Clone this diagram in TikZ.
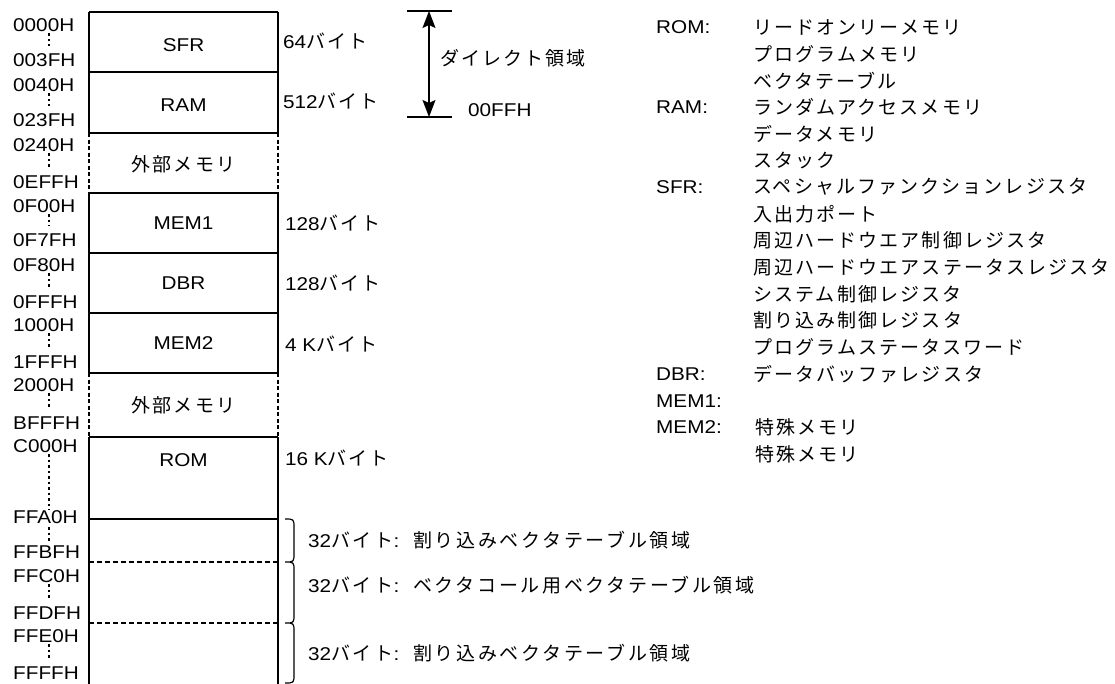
\documentclass[tikz,border=0pt]{standalone}
\usepackage{fontspec}
\setmainfont{Liberation Sans}[FakeStretch=1.12]
\newfontfamily\jpfont{Noto Sans CJK JP}[LetterSpace=11]
\newfontfamily\jpfontb{Noto Sans CJK JP}[LetterSpace=14]
\usetikzlibrary{arrows.meta}
\newcommand\jtx[1]{{\jpfont\fontsize{19}{22}\selectfont #1}}
\newcommand\jtxb[1]{{\jpfontb\fontsize{19}{22}\selectfont #1}}
\tikzset{
  lbl/.style={font=\fontsize{18.5}{22}\selectfont, inner sep=0pt},
  addr/.style={lbl, anchor=west},
  boxline/.style={line width=1.6pt},
  dashside/.style={line width=1.3pt, dash pattern=on 4pt off 2.5pt},
  dashsep/.style={line width=1.2pt, dash pattern=on 5pt off 3pt},
  dotv/.style={line width=1.1pt, dash pattern=on 2.5pt off 3pt},
  brace/.style={line width=1.2pt},
  dirarrow/.style={line width=1.2pt, {Stealth[length=17pt,width=13pt,inset=3pt]}-{Stealth[length=17pt,width=13pt,inset=3pt]}}
}
\begin{document}
\begin{tikzpicture}[x=1pt,y=-1pt]
\useasboundingbox (0,0) rectangle (1115,683);
% ---- memory column outline
\draw[boxline] (89,12) -- (89,133) (278,12) -- (278,133);
\draw[boxline] (89,193) -- (89,373) (278,193) -- (278,373);
\draw[boxline] (89,437) -- (89,684) (278,437) -- (278,684);
\draw[dashside] (89,133) -- (89,193) (278,133) -- (278,193);
\draw[dashside] (89,373) -- (89,437) (278,373) -- (278,437);
\foreach \yy in {12,72,133,193,253,313,373,437,519}
  \draw[boxline] (89,\yy) -- (278,\yy);
\draw[dashsep] (89,562) -- (278,562);
\draw[dashsep] (89,623) -- (278,623);
% ---- box labels
\node[lbl] (sfr)  at (183.5,45)  {SFR};
\node[lbl] (ram)  at (183.5,105) {RAM};
\node[lbl] (ext1) at (183.5,164) {\jtx{外部メモリ}};
\node[lbl] (mem1) at (183.5,223) {MEM1};
\node[lbl] (dbr)  at (183.5,283) {DBR};
\node[lbl] (mem2) at (183.5,343) {MEM2};
\node[lbl] (ext2) at (183.5,405) {\jtx{外部メモリ}};
\node[lbl] (rom)  at (183.5,460) {ROM};
% ---- addresses
\node[addr] (a1)  at (13,25)  {0000H};
\node[addr] (a2)  at (13,60)  {003FH};
\node[addr] (a3)  at (13,85)  {0040H};
\node[addr] (a4)  at (13,120) {023FH};
\node[addr] (a5)  at (13,145) {0240H};
\node[addr] (a6)  at (13,182) {0EFFH};
\node[addr] (a7)  at (13,206) {0F00H};
\node[addr] (a8)  at (13,240) {0F7FH};
\node[addr] (a9)  at (13,265) {0F80H};
\node[addr] (a10) at (13,302) {0FFFH};
\node[addr] (a11) at (13,325) {1000H};
\node[addr] (a12) at (13,362) {1FFFH};
\node[addr] (a13) at (13,385) {2000H};
\node[addr] (a14) at (13,423) {BFFFH};
\node[addr] (a15) at (13,446) {C000H};
\node[addr] (a16) at (13,517) {FFA0H};
\node[addr] (a17) at (13,552) {FFBFH};
\node[addr] (a18) at (13,576) {FFC0H};
\node[addr] (a19) at (13,613) {FFDFH};
\node[addr] (a20) at (13,636) {FFE0H};
\node[addr] (a21) at (13,673) {FFFFH};
\foreach \ya/\yb in {33/46,93/106,153/167,214/226,273/288,333/347,393/408,454/510,527/541,584/598,644/658}
  \draw[dotv] (49,\ya) -- (49,\yb);
% ---- sizes
\node[addr] (s1) at (283,41)  {64\jtx{バイト}};
\node[addr] (s2) at (283,101) {512\jtx{バイト}};
\node[addr] (s3) at (285,223) {128\jtx{バイト}};
\node[addr] (s4) at (285,283) {128\jtx{バイト}};
\node[addr] (s5) at (285,344) {4 K\jtx{バイト}};
\node[addr] (s6) at (285,458) {16 K\jtx{バイト}};
% ---- direct area arrow
\coordinate (dtl) at (407,11);
\coordinate (dtr) at (452,11);
\coordinate (dbl) at (407,117);
\coordinate (dbr2) at (452,117);
\coordinate (dtop) at (429,11);
\coordinate (dbot) at (429,117);
\draw[line width=1.3pt] (dtl) -- (dtr);
\draw[line width=1.3pt] (dbl) -- (dbr2);
\draw[dirarrow] (dtop) -- (dbot);
\node[addr] (dir) at (440,58) {\jtx{ダイレクト領域}};
\node[addr] (ffh) at (468,110) {00FFH};
% ---- braces
\draw[brace] (285,519) .. controls (294,519) .. (294,528) -- (294,553)
  .. controls (294,562) .. (285,562) .. controls (294,562) .. (294,571)
  -- (294,614) .. controls (294,623) .. (285,623) .. controls (294,623) .. (294,632)
  -- (294,674) .. controls (294,683) .. (285,683);
\node[addr] (v1) at (308,540) {32\jtxb{バイト}:\hspace{14pt}\jtxb{割り込みベクタテーブル領域}};
\node[addr] (v2) at (308,585) {32\jtxb{バイト}:\hspace{14pt}\jtxb{ベクタコール用ベクタテーブル領域}};
\node[addr] (v3) at (308,653) {32\jtxb{バイト}:\hspace{14pt}\jtxb{割り込みベクタテーブル領域}};
% ---- legend
\node[addr] (l0)  at (656,27)    {ROM:};
\node[addr] (l3)  at (656,107)   {RAM:};
\node[addr] (l6)  at (656,187)   {SFR:};
\node[addr] (l13) at (656,374)   {DBR:};
\node[addr] (l14) at (656,400.8) {MEM1:};
\node[addr] (l15) at (656,427.5) {MEM2:};
\node[addr] (j0)  at (753,27)    {\jtx{リードオンリーメモリ}};
\node[addr] (j1)  at (753,53.7)  {\jtx{プログラムメモリ}};
\node[addr] (j2)  at (753,80.4)  {\jtx{ベクタテーブル}};
\node[addr] (j3)  at (753,107)   {\jtx{ランダムアクセスメモリ}};
\node[addr] (j4)  at (753,133.8) {\jtx{データメモリ}};
\node[addr] (j5)  at (753,160.5) {\jtx{スタック}};
\node[addr] (j6)  at (753,187)   {\jtx{スペシャルファンクションレジスタ}};
\node[addr] (j7)  at (753,214)   {\jtx{入出力ポート}};
\node[addr] (j8)  at (753,240.6) {\jtx{周辺ハードウエア制御レジスタ}};
\node[addr] (j9)  at (753,267.3) {\jtx{周辺ハードウエアステータスレジスタ}};
\node[addr] (j10) at (753,294)   {\jtx{システム制御レジスタ}};
\node[addr] (j11) at (753,320.7) {\jtx{割り込み制御レジスタ}};
\node[addr] (j12) at (753,347.4) {\jtx{プログラムステータスワード}};
\node[addr] (j13) at (753,374)   {\jtx{データバッファレジスタ}};
\node[addr] (j15) at (755,427.5) {\jtx{特殊メモリ}};
\node[addr] (j16) at (755,454)   {\jtx{特殊メモリ}};
\end{tikzpicture}
\end{document}
